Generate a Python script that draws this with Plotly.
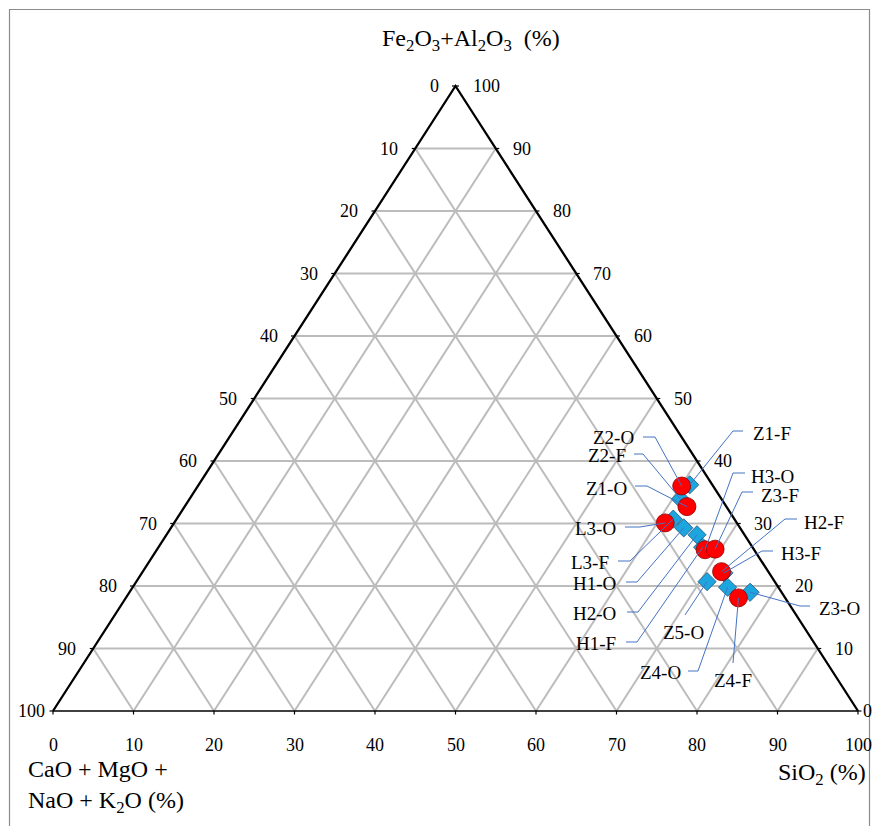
import numpy as np
import plotly.graph_objects as go

# ---------------- data (Fe2O3+Al2O3, SiO2, CaO+MgO+NaO+K2O in %) ----------------
circle_names = ["Z2-O", "Z1-O", "L3-O", "H3-O", "Z3-F", "H2-F", "Z4-F"]
circle_fe = [36.0, 32.7, 30.1, 25.8, 25.9, 22.3, 18.1]
circle_si = [60.1, 62.4, 61.0, 68.1, 69.3, 71.9, 76.1]
circle_ca = [3.9, 4.9, 8.9, 6.1, 4.8, 5.8, 5.8]

diamond_names = ["Z1-F", "Z2-F", "L3-F", "H1-O", "H2-O", "H1-F", "H3-F", "Z5-O", "Z4-O", "Z3-O"]
diamond_fe = [36.2, 33.9, 30.7, 29.3, 28.2, 26.2, 22.1, 20.7, 19.8, 19.0]
diamond_si = [61.0, 61.0, 61.7, 63.7, 65.9, 67.6, 72.3, 70.9, 73.9, 77.1]
diamond_ca = [2.8, 5.1, 7.6, 7.0, 5.9, 6.2, 5.6, 8.4, 6.3, 3.9]

tick_values = [0, 10, 20, 30, 40, 50, 60, 70, 80, 90, 100]

# ---------------- layout constants ----------------
W, H = 872, 826
OX, OY = 53.0, 711.0           # pixel of the CaO vertex (bottom-left)
SX, SY = 8.05, 6.25            # pixels per unit in x / y
XR = [-OX / SX, (W - OX) / SX]
YR = [(OY - H) / SY, OY / SY]

SERIF = "Liberation Serif, Times New Roman, serif"


def tern_xy(fe, si, ca):
    fe, si, ca = map(np.asarray, (fe, si, ca))
    tot = fe + si + ca
    a = fe / tot * 100.0
    c = si / tot * 100.0
    return c + a / 2.0, a


def to_data(px, py):
    """page pixel -> data coordinates"""
    return (px - OX) / SX, (OY - py) / SY


fig = go.Figure()

# grid lines
gx, gy = [], []
for v in tick_values[1:-1]:
    gx += [v / 2, 100 - v / 2, None]; gy += [v, v, None]
    gx += [v, v + (100 - v) / 2, None]; gy += [0, 100 - v, None]
    gx += [100 - v, (100 - v) / 2, None]; gy += [0, 100 - v, None]
fig.add_trace(go.Scatter(x=gx, y=gy, mode="lines", line=dict(color="#BCBCBC", width=2),
                         hoverinfo="skip", showlegend=False))

# triangle edges
fig.add_trace(go.Scatter(x=[0, 50, 100], y=[0, 100, 0], mode="lines",
                         line=dict(color="black", width=2.3), hoverinfo="skip", showlegend=False))
fig.add_trace(go.Scatter(x=[0, 100], y=[0, 0], mode="lines",
                         line=dict(color="black", width=1.3), hoverinfo="skip", showlegend=False))

# tick marks
tx, ty = [], []
tl = 3.5
for v in tick_values:
    tx += [v / 2, v / 2 - tl / SX, None]; ty += [v, v, None]
    tx += [100 - v / 2, 100 - v / 2 + tl / SX, None]; ty += [v, v, None]
    tx += [v, v, None]; ty += [0, -tl / SY, None]
fig.add_trace(go.Scatter(x=tx, y=ty, mode="lines", line=dict(color="black", width=1.2),
                         hoverinfo="skip", showlegend=False))

# markers
dx, dy = tern_xy(diamond_fe, diamond_si, diamond_ca)
cx, cy = tern_xy(circle_fe, circle_si, circle_ca)
fig.add_trace(go.Scatter(x=dx, y=dy, mode="markers", text=diamond_names, hoverinfo="text",
                         marker=dict(symbol="diamond", size=14, color="#1CA6DF",
                                     line=dict(color="#1F4E79", width=0.8)),
                         showlegend=False))
fig.add_trace(go.Scatter(x=cx, y=cy, mode="markers", text=circle_names, hoverinfo="text",
                         marker=dict(symbol="circle", size=18, color="#FF0000",
                                     line=dict(color="#8B0000", width=0.8)),
                         showlegend=False))

pos = {n: (x, y) for n, x, y in zip(diamond_names, dx, dy)}
pos.update({n: (x, y) for n, x, y in zip(circle_names, cx, cy)})

# data-label layout (page pixels): text x, text y, xanchor, leader points before the marker
label_layout = {
    "Z2-O": (635, 437, "right", [(643, 437), (655, 437)]),
    "Z2-F": (627, 455, "right", [(634, 454), (643, 454)]),
    "Z1-O": (628, 488, "right", [(635, 486), (647, 486)]),
    "L3-O": (617, 528, "right", [(625, 527), (640, 527)]),
    "L3-F": (610, 562, "right", [(618, 561), (630, 561)]),
    "H1-O": (617, 583, "right", [(626, 582), (637, 582)]),
    "H2-O": (617, 613, "right", [(627, 612), (638, 612)]),
    "H1-F": (617, 643, "right", [(626, 642), (637, 642)]),
    "Z4-O": (682, 672, "right", [(688, 671), (698, 671)]),
    "Z5-O": (683, 632, "center", [(685, 615)]),
    "Z4-F": (733, 680, "center", [(733, 663)]),
    "Z1-F": (752, 433, "left", [(743, 431), (733, 431)]),
    "H3-O": (750, 476, "left", [(745, 473), (733, 473)]),
    "Z3-F": (760, 495, "left", [(753, 492), (742, 492)]),
    "H2-F": (803, 522, "left", [(797, 519), (785, 519)]),
    "H3-F": (780, 553, "left", [(773, 551), (762, 551)]),
    "Z3-O": (818, 608, "left", [(810, 606), (800, 606)]),
}

lx, ly = [], []
annotations = []
for name, (tpx, tpy, anc, pts) in label_layout.items():
    for (ppx, ppy) in pts:
        x, y = to_data(ppx, ppy)
        lx.append(x); ly.append(y)
    mx, my = pos[name]
    lx += [mx, None]; ly += [my, None]
    ax, ay = to_data(tpx, tpy)
    annotations.append(dict(x=ax, y=ay, xref="x", yref="y", text=name, showarrow=False,
                            xanchor=anc, yanchor="middle", borderpad=0,
                            font=dict(family=SERIF, size=19, color="black")))
fig.add_trace(go.Scatter(x=lx, y=ly, mode="lines", line=dict(color="#4472C4", width=1),
                         hoverinfo="skip", showlegend=False))

# tick labels
tick_font = dict(family=SERIF, size=18, color="black")
for v in tick_values:
    gap = 7 if v == 0 else 16
    annotations.append(dict(x=v / 2, y=v, xref="x", yref="y", text=str(100 - v), showarrow=False,
                            xanchor="right", yanchor="middle", xshift=-gap, borderpad=0,
                            font=tick_font))
    gap = 4 if v == 0 else 16
    annotations.append(dict(x=100 - v / 2, y=v, xref="x", yref="y", text=str(v), showarrow=False,
                            xanchor="left", yanchor="middle", xshift=gap, borderpad=0,
                            font=tick_font))
    annotations.append(dict(x=v, y=0, xref="x", yref="y", text=str(v), showarrow=False,
                            xanchor="center", yanchor="middle", yshift=-34, borderpad=0,
                            font=tick_font))

# axis titles
title_font = dict(family=SERIF, size=24, color="black")
x, y = to_data(471, 40)
annotations.append(dict(x=x, y=y, xref="x", yref="y", showarrow=False, xanchor="center",
                        yanchor="middle", font=title_font,
                        text="Fe<sub>2</sub>O<sub>3</sub>+Al<sub>2</sub>O<sub>3</sub>&nbsp; (%)"))
x, y = to_data(26, 786)
annotations.append(dict(x=x, y=y, xref="x", yref="y", showarrow=False, xanchor="left",
                        yanchor="middle", align="left", font=title_font,
                        text="CaO + MgO +<br>NaO + K<sub>2</sub>O (%)"))
x, y = to_data(868, 774)
annotations.append(dict(x=x, y=y, xref="x", yref="y", showarrow=False, xanchor="right",
                        yanchor="middle", font=title_font, text="SiO<sub>2</sub> (%)"))

fig.update_layout(
    width=W, height=H, autosize=False,
    margin=dict(l=0, r=0, t=0, b=0, pad=0),
    paper_bgcolor="white", plot_bgcolor="white",
    xaxis=dict(range=XR, visible=False, fixedrange=True),
    yaxis=dict(range=YR, visible=False, fixedrange=True),
    showlegend=False,
    annotations=annotations,
    shapes=[dict(type="rect", xref="paper", yref="paper",
                 x0=9.5 / W, x1=869.5 / W, y0=-0.02, y1=1 - 9.5 / H,
                 line=dict(color="#8C8C8C", width=1.2), layer="below")],
)

fig.write_html("out.html",
               config={"displayModeBar": False},
               post_script="document.body.style.margin='0px';"
                           "document.body.style.overflow='hidden';")
